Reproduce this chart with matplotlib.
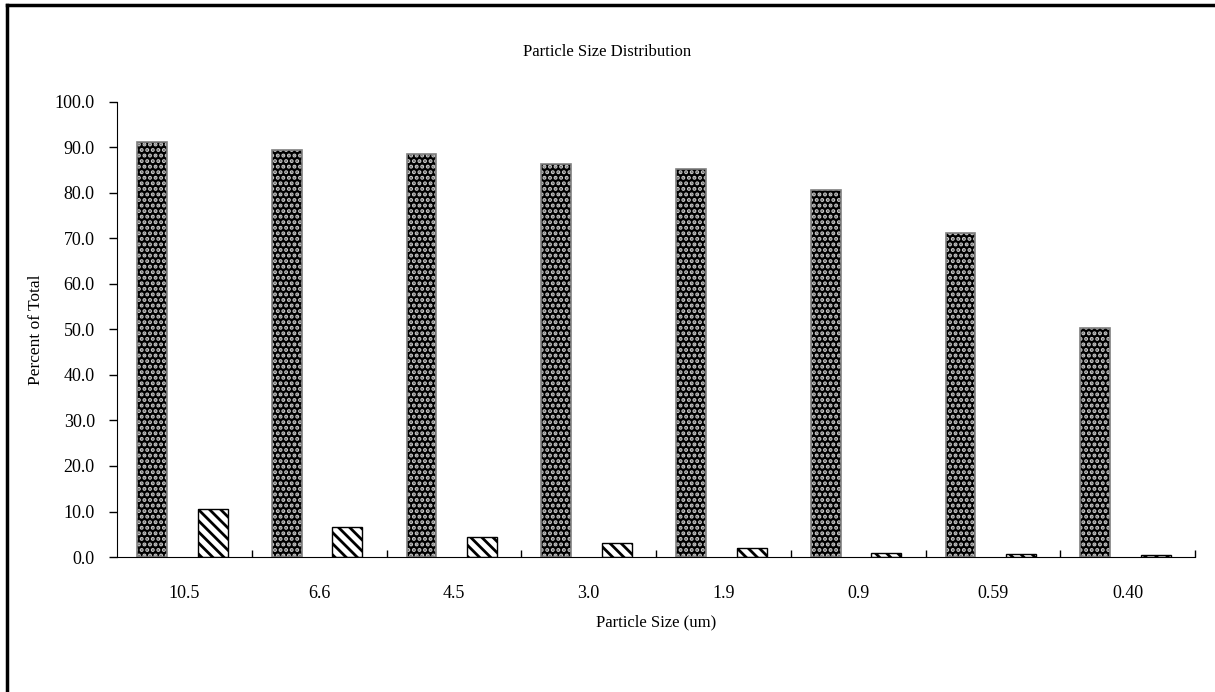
import matplotlib
matplotlib.use("Agg")
import matplotlib.pyplot as plt
from matplotlib.lines import Line2D
import numpy as np

plt.rcParams["font.family"] = ["Liberation Serif", "DejaVu Serif"]

sizes = ["10.5", "6.6", "4.5", "3.0", "1.9", "0.9", "0.59", "0.40"]
cumulative = [91.3, 89.4, 88.5, 86.4, 85.3, 80.6, 71.3, 50.4]
fraction = [10.5, 6.6, 4.5, 3.0, 1.9, 0.9, 0.59, 0.40]

fig = plt.figure(figsize=(12.15, 6.92), dpi=100)
ax = fig.add_axes([117 / 1215, 1 - 557 / 692, 1078 / 1215, 455 / 692])

x = np.arange(len(sizes))
w = 0.222
plt.rcParams["hatch.linewidth"] = 2.0
# dark bars: black with light dots, then grey outline on top
ax.bar(x - 0.24, cumulative, w, color="black", edgecolor="#c8c8c8",
       hatch="...", linewidth=0)
ax.bar(x - 0.24, cumulative, w, fill=False, edgecolor="#808080", linewidth=1.2)
ax.bar(x + 0.21, fraction, w, color="white", edgecolor="black",
       hatch="\\\\\\", linewidth=0)
ax.bar(x + 0.21, fraction, w, fill=False, edgecolor="black", linewidth=1.0)

ax.set_xlim(-0.5, len(sizes) - 0.5)
ax.set_ylim(0, 100)
ax.set_yticks(np.arange(0, 101, 10))
ax.set_yticklabels([f"{v:.1f}" for v in np.arange(0, 101, 10)])
ax.set_xticks(x)
ax.set_xticklabels(sizes)
ax.set_xticks(np.arange(0.5, len(sizes), 1), minor=True)
ax.tick_params(axis="x", which="major", length=0, pad=20, labelsize=13)
ax.tick_params(axis="x", which="minor", direction="in", length=5, width=1)
ax.tick_params(axis="y", length=6, width=1, labelsize=13, pad=10)

for s in ["top", "right"]:
    ax.spines[s].set_visible(False)
ax.spines["left"].set_color("black")
ax.spines["bottom"].set_color("black")

ax.set_xlabel("Particle Size (um)", fontsize=12, labelpad=9)
ax.set_ylabel("Percent of Total", fontsize=12.5, labelpad=8)
fig.text(0.5, 1 - 52 / 692, "Particle Size Distribution", ha="center",
         va="center", fontsize=12)

# outer frame edges (left and top only)
fig.add_artist(Line2D([7 / 1215, 7 / 1215], [0, 1 - 5 / 692],
                      transform=fig.transFigure, color="black", lw=2.5))
fig.add_artist(Line2D([7 / 1215, 1], [1 - 5 / 692, 1 - 5 / 692],
                      transform=fig.transFigure, color="black", lw=2.5))

fig.savefig("out.png", dpi=100)
